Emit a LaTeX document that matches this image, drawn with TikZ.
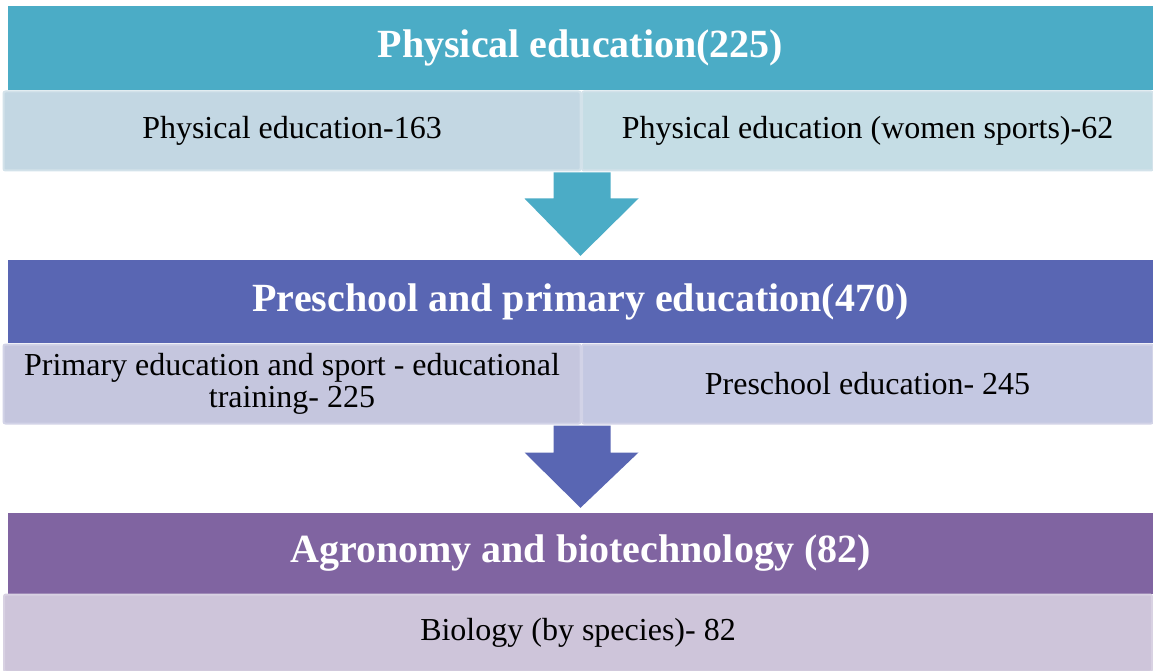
\documentclass[tikz,border=0pt]{standalone}
\usepackage{fontspec}
\setmainfont{Liberation Serif}
\newfontfamily\tnr{Liberation Serif}
\usetikzlibrary{calc}
\definecolor{hA}{HTML}{4BACC6}
\definecolor{hB}{HTML}{5966B3}
\definecolor{hC}{HTML}{8064A1}
\definecolor{sAl}{HTML}{C3D7E3}
\definecolor{sAr}{HTML}{C5DDE5}
\definecolor{sBl}{HTML}{C5C6DE}
\definecolor{sBr}{HTML}{C4C8E2}
\definecolor{sC}{HTML}{CEC5DA}
\definecolor{bA}{HTML}{D3E2EA}
\definecolor{bB}{HTML}{D2D3E7}
\definecolor{bC}{HTML}{D8D1E2}
\tikzset{
  head/.style={inner sep=0pt, text=white, font=\tnr\fontsize{40}{44}\selectfont\bfseries, minimum height=84pt},
  cell/.style={inner sep=0pt, text=black, font=\tnr\fontsize{32}{32}\selectfont, line width=2pt, rounded corners=2pt, align=center}
}
\begin{document}
\begin{tikzpicture}[x=1pt,y=-1pt]
\useasboundingbox (0,0) rectangle (1153,671);
% level 1
\node[head, fill=hA, minimum width=1145pt, minimum height=84pt] (h1) at (580.5,48) {Physical education(225)};
\node[cell, fill=sAl, draw=bA, minimum width=577pt, minimum height=79pt] (s1l) at (292,131) {Physical education-163};
\node[cell, fill=sAr, draw=bA, minimum width=571pt, minimum height=79pt] (s1r) at (867.5,131) {Physical education (women sports)-62};
% level 2
\node[head, fill=hB, minimum width=1145pt, minimum height=83pt] (h2) at (580.5,301.5) {Preschool and primary education(470)};
\node[cell, fill=sBl, draw=bB, minimum width=577pt, minimum height=79pt] (s2l) at (292,384) {Primary education and sport - educational\\training- 225};
\node[cell, fill=sBr, draw=bB, minimum width=571pt, minimum height=79pt] (s2r) at (867.5,384) {Preschool education- 245};
% level 3
\node[head, fill=hC, minimum width=1145pt, minimum height=81pt] (h3) at (580.5,553.5) {Agronomy and biotechnology (82)};
\node[cell, fill=sC, draw=bC, minimum width=1148pt, minimum height=77pt] (s3) at (578,633) {Biology (by species)- 82};
% arrows
\coordinate (a1) at ($(s1l.south east)+(0,1)$);
\coordinate (a2) at ($(s2l.south east)+(0,1)$);
\fill[hA] ($(a1)+(-28,0)$) -- ($(a1)+(29,0)$) -- ($(a1)+(29,26)$) -- ($(a1)+(57,26)$) -- ($(h2.north)+(0,-4)$) -- ($(a1)+(-57,26)$) -- ($(a1)+(-28,26)$) -- cycle;
\fill[hB] ($(a2)+(-28,0)$) -- ($(a2)+(29,0)$) -- ($(a2)+(29,27)$) -- ($(a2)+(57,27)$) -- ($(h3.north)+(0,-5)$) -- ($(a2)+(-57,27)$) -- ($(a2)+(-28,27)$) -- cycle;
\end{tikzpicture}
\end{document}
